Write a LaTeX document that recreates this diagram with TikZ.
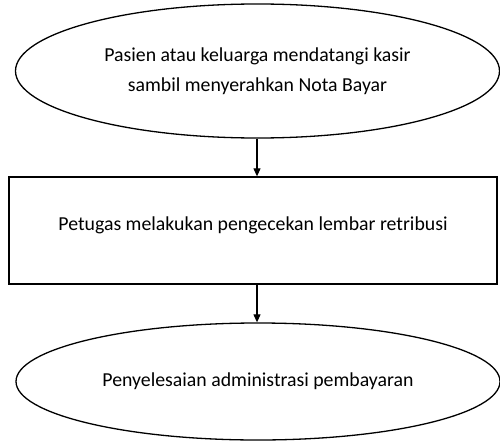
\documentclass[tikz,border=0pt]{standalone}
\usepackage{fontspec}
\setmainfont{Carlito}
\usetikzlibrary{shapes.geometric,arrows.meta}
\begin{document}
\begin{tikzpicture}[x=1pt,y=-1pt,
  every node/.style={font=\fontsize{19.8}{30}\selectfont, align=center, inner sep=0pt},
  oval/.style={draw, ellipse, line width=1.3pt},
  box/.style={draw, rectangle, line width=1.3pt},
  flow/.style={-{Triangle[length=8pt,width=7pt]}, line width=1.1pt}]
\useasboundingbox (0,0) rectangle (500,441);
\node[oval, minimum width=484pt, minimum height=134pt] (a) at (257.5,71) {Pasien atau keluarga mendatangi kasir\\sambil menyerahkan Nota Bayar};
\node[box, minimum width=488pt, minimum height=107pt, text depth=14pt] (b) at (253,230.5) {Petugas melakukan pengecekan lembar retribusi};
\node[oval, minimum width=484pt, minimum height=117pt] (c) at (258,381.5) {Penyelesaian administrasi pembayaran};
\draw[flow] (a.south -| 257,0) -- (b.north -| 257,0);
\draw[flow] (b.south -| 257,0) -- (c.north -| 257,0);
\end{tikzpicture}
\end{document}
